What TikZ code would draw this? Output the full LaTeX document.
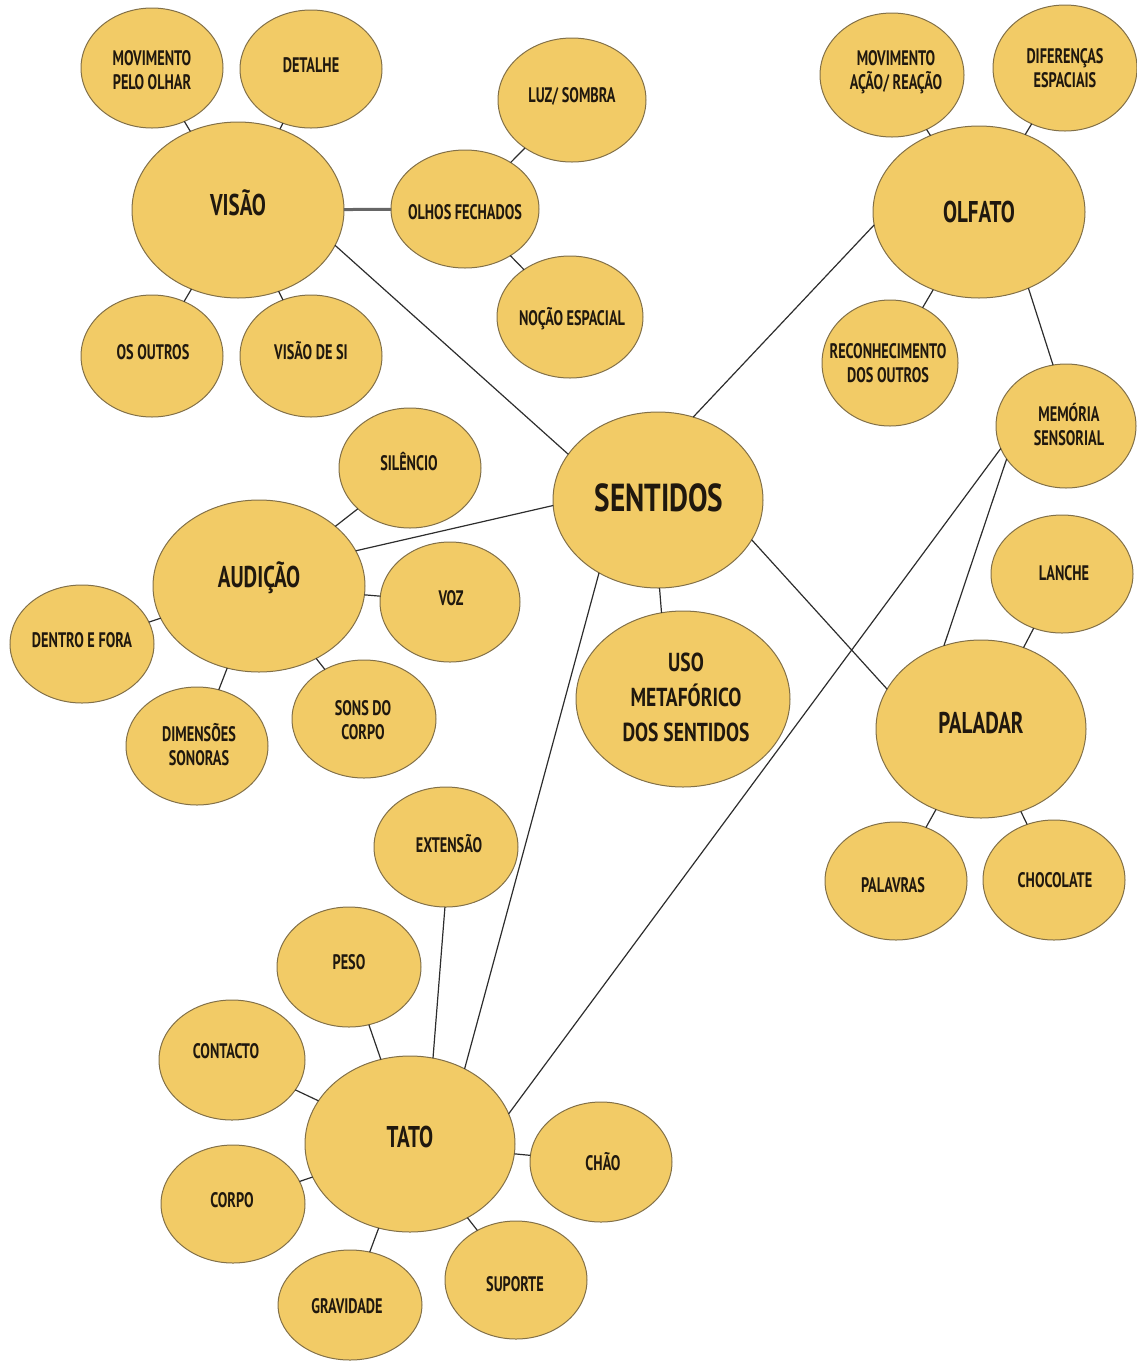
\documentclass[tikz,border=0pt]{standalone}
\usepackage{fontspec}
\setmainfont{PT Sans}[FakeStretch=0.68]
\newfontfamily\bigf{PT Sans}[FakeStretch=0.7]
\newfontfamily\usof{PT Sans}[FakeStretch=0.75]
\usetikzlibrary{shapes.geometric}
\definecolor{fillc}{RGB}{242,203,102}
\definecolor{bordc}{RGB}{130,112,72}
\definecolor{txtc}{RGB}{32,24,14}
\definecolor{linec}{RGB}{45,45,45}
\begin{document}
\begin{tikzpicture}[x=1pt,y=-1pt,
  ell/.style 2 args={ellipse, draw=bordc, fill=fillc, line width=1pt, inner sep=0pt, outer sep=0pt, minimum width=#1pt, minimum height=#2pt},
  sm/.style={font=\bfseries\fontsize{21}{24}\selectfont, align=center, text=txtc, inner sep=0pt},
  smone/.style={sm, text height=14.7pt, text depth=0pt},
  bigone/.style={font=\bigf\bfseries\fontsize{30}{36}\selectfont, text=txtc, inner sep=0pt, text height=21pt, text depth=0pt},
  uso/.style={font=\usof\bfseries\fontsize{26}{35}\selectfont, align=center, text=txtc, inner sep=0pt},
  huge/.style={font=\usof\bfseries\fontsize{39}{44}\selectfont, text=txtc, inner sep=0pt, text height=27.3pt, text depth=0pt},
  con/.style={draw=linec, line width=1.2pt},
  thickcon/.style={draw=black!60, line width=3pt}]
\useasboundingbox (0,0) rectangle (1136,1361);

% ---- ellipses ----
% Visao cluster
\node[ell={142}{120}] (movolhar) at (152,68) {};
\node[ell={142}{118}] (detalhe) at (311,69) {};
\node[ell={212}{176}] (visao) at (238,210) {};
\node[ell={142}{122}] (outros) at (152,356) {};
\node[ell={142}{122}] (visaosi) at (311,356) {};
\node[ell={148}{118}] (olhos) at (465,209) {};
\node[ell={148}{124}] (luz) at (572,100) {};
\node[ell={146}{122}] (nocao) at (570,317) {};
% Olfato cluster
\node[ell={144}{124}] (movacao) at (892,75) {};
\node[ell={144}{126}] (difer) at (1065,68) {};
\node[ell={212}{172}] (olfato) at (979,212) {};
\node[ell={136}{126}] (recon) at (890,363) {};
\node[ell={140}{124}] (memoria) at (1066,426) {};
% centre
\node[ell={210}{176}] (sentidos) at (658,500) {};
\node[ell={214}{176}] (uso) at (683,699) {};
% Audicao cluster
\node[ell={142}{120}] (silencio) at (410,468) {};
\node[ell={212}{172}] (audicao) at (259,586) {};
\node[ell={140}{120}] (voz) at (450,602) {};
\node[ell={144}{118}] (dentro) at (82,644) {};
\node[ell={142}{118}] (dimensoes) at (197,746) {};
\node[ell={144}{118}] (sons) at (364,719) {};
% Paladar cluster
\node[ell={142}{118}] (lanche) at (1062,574) {};
\node[ell={210}{178}] (paladar) at (981,729) {};
\node[ell={142}{118}] (palavras) at (896,881) {};
\node[ell={142}{120}] (chocolate) at (1054,880) {};
% Tato cluster
\node[ell={144}{120}] (extensao) at (446,847) {};
\node[ell={144}{120}] (peso) at (349,967) {};
\node[ell={146}{120}] (contacto) at (232,1060) {};
\node[ell={210}{176}] (tato) at (410,1144) {};
\node[ell={142}{120}] (chao) at (601,1162) {};
\node[ell={144}{118}] (corpo) at (233,1204) {};
\node[ell={144}{110}] (gravidade) at (350,1305) {};
\node[ell={142}{118}] (suporte) at (516,1280) {};

% ---- connectors ----
\draw[con] (visao) -- (movolhar);
\draw[con] (visao) -- (detalhe);
\draw[con] (visao) -- (outros);
\draw[con] (visao) -- (visaosi);
\draw[thickcon] (visao) -- (olhos);
\draw[con] (olhos) -- (luz);
\draw[con] (olhos) -- (nocao);
\draw[con] (visao.-20) -- (sentidos.153);
\draw[con] (sentidos.67) -- (olfato.187);
\draw[con] (olfato) -- (movacao);
\draw[con] (olfato) -- (difer);
\draw[con] (olfato) -- (recon);
\draw[con] (olfato.-57) -- (memoria.102);
\draw[con] (memoria.209) -- (paladar.114);
\draw[con] (memoria.199) -- (tato.17);
\draw[con] (sentidos.183) -- (audicao.20);
\draw[con] (sentidos.-89) -- (uso.104);
\draw[con] (sentidos.-23) -- (paladar.157);
\draw[con] (sentidos.231) -- (tato.54);
\draw[con] (audicao) -- (silencio);
\draw[con] (audicao) -- (voz);
\draw[con] (audicao) -- (dentro);
\draw[con] (audicao) -- (dimensoes);
\draw[con] (audicao) -- (sons);
\draw[con] (paladar) -- (lanche);
\draw[con] (paladar) -- (palavras);
\draw[con] (paladar) -- (chocolate);
\draw[con] (extensao.-91) -- (tato.75);
\draw[con] (tato) -- (peso);
\draw[con] (tato) -- (contacto);
\draw[con] (tato) -- (chao);
\draw[con] (tato) -- (corpo);
\draw[con] (tato) -- (gravidade);
\draw[con] (tato) -- (suporte);

% ---- labels ----
\node[sm] (t-movolhar) at (152,70) {MOVIMENTO\\PELO OLHAR};
\node[smone] (t-detalhe) at (311,65) {DETALHE};
\node[bigone] (t-visao) at (238,205) {VISÃO};
\node[smone] (t-outros) at (153,352) {OS OUTROS};
\node[smone] (t-visaosi) at (311,352) {VISÃO DE SI};
\node[smone] (t-olhos) at (465,212) {OLHOS FECHADOS};
\node[smone] (t-luz) at (572,95) {LUZ/ SOMBRA};
\node[smone] (t-nocao) at (572,318) {NOÇÃO ESPACIAL};
\node[sm] (t-movacao) at (896,72) {MOVIMENTO\\AÇÃO/ REAÇÃO};
\node[sm] (t-difer) at (1065,68) {DIFERENÇAS\\ESPACIAIS};
\node[bigone] (t-olfato) at (979,212) {OLFATO};
\node[sm] (t-recon) at (888,363) {RECONHECIMENTO\\DOS OUTROS};
\node[sm] (t-memoria) at (1069,425) {MEMÓRIA\\SENSORIAL};
\node[huge] (t-sentidos) at (659,498) {SENTIDOS};
\node[uso] (t-uso) at (686,697) {USO\\METAFÓRICO\\DOS SENTIDOS};
\node[smone] (t-silencio) at (409,463) {SILÊNCIO};
\node[bigone] (t-audicao) at (259,577) {AUDIÇÃO};
\node[smone] (t-voz) at (451,598) {VOZ};
\node[smone] (t-dentro) at (82,640) {DENTRO E FORA};
\node[sm] (t-dimensoes) at (199,745) {DIMENSÕES\\SONORAS};
\node[sm] (t-sons) at (363,720) {SONS DO\\CORPO};
\node[smone] (t-lanche) at (1064,573) {LANCHE};
\node[bigone] (t-paladar) at (981,723) {PALADAR};
\node[smone] (t-palavras) at (893,885) {PALAVRAS};
\node[smone] (t-chocolate) at (1055,880) {CHOCOLATE};
\node[smone] (t-extensao) at (449,845) {EXTENSÃO};
\node[smone] (t-peso) at (349,962) {PESO};
\node[smone] (t-contacto) at (226,1051) {CONTACTO};
\node[bigone] (t-tato) at (410,1137) {TATO};
\node[smone] (t-chao) at (603,1163) {CHÃO};
\node[smone] (t-corpo) at (232,1200) {CORPO};
\node[smone] (t-gravidade) at (347,1306) {GRAVIDADE};
\node[smone] (t-suporte) at (515,1284) {SUPORTE};
\end{tikzpicture}
\end{document}
